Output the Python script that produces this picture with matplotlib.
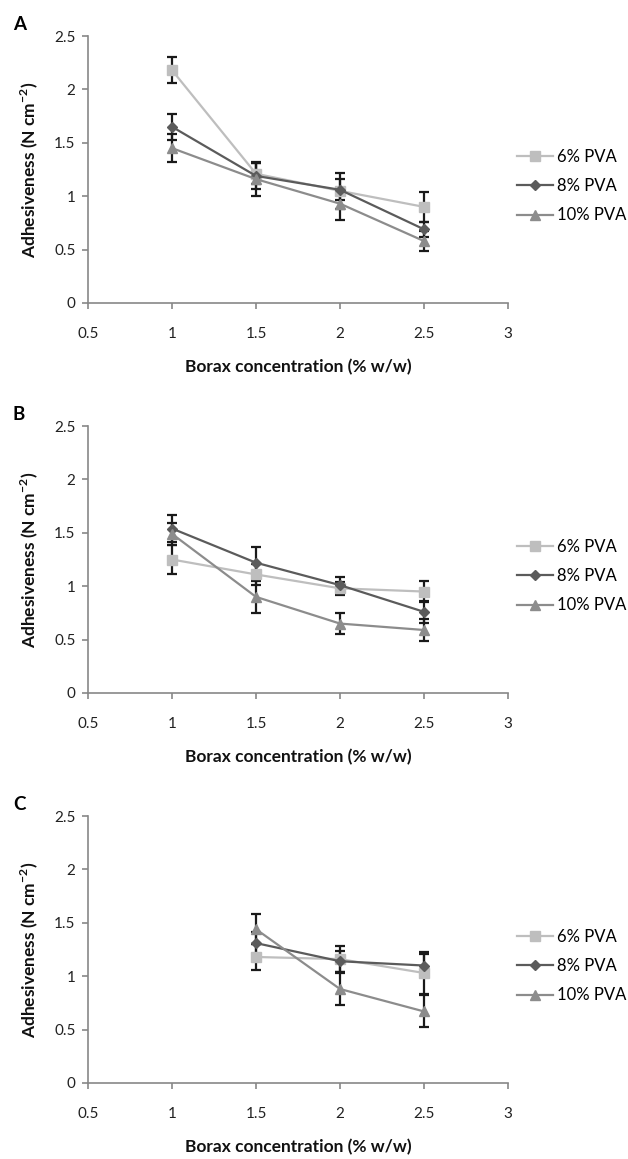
import matplotlib
matplotlib.use("Agg")
import matplotlib.pyplot as plt

plt.rcParams['font.family'] = ['Lato', 'DejaVu Sans']
plt.rcParams['mathtext.fontset'] = 'custom'
plt.rcParams['mathtext.rm'] = 'Lato'
plt.rcParams['mathtext.bf'] = 'Lato:bold'

series = ["6% PVA", "8% PVA", "10% PVA"]
x_AB = [1, 1.5, 2, 2.5]
x_C = [1.5, 2, 2.5]

A_vals = {"6% PVA": [2.18, 1.21, 1.05, 0.90],
          "8% PVA": [1.65, 1.19, 1.06, 0.69],
          "10% PVA": [1.45, 1.16, 0.93, 0.58]}
A_err = {"6% PVA": [0.12, 0.10, 0.17, 0.14],
         "8% PVA": [0.12, 0.12, 0.10, 0.07],
         "10% PVA": [0.13, 0.16, 0.15, 0.09]}

B_vals = {"6% PVA": [1.25, 1.11, 0.98, 0.95],
          "8% PVA": [1.54, 1.22, 1.01, 0.76],
          "10% PVA": [1.49, 0.90, 0.65, 0.59]}
B_err = {"6% PVA": [0.14, 0.10, 0.06, 0.10],
         "8% PVA": [0.13, 0.15, 0.08, 0.10],
         "10% PVA": [0.10, 0.15, 0.10, 0.10]}

C_vals = {"6% PVA": [1.18, 1.16, 1.03],
          "8% PVA": [1.31, 1.14, 1.10],
          "10% PVA": [1.44, 0.88, 0.67]}
C_err = {"6% PVA": [0.12, 0.12, 0.20],
         "8% PVA": [0.10, 0.10, 0.11],
         "10% PVA": [0.14, 0.15, 0.15]}

colors = {"6% PVA": "#bebebe", "8% PVA": "#5b5b5b", "10% PVA": "#8c8c8c"}
markers = {"6% PVA": "s", "8% PVA": "D", "10% PVA": "^"}
msizes = {"6% PVA": 7, "8% PVA": 5, "10% PVA": 7.5}

xticks = [0.5, 1, 1.5, 2, 2.5, 3]
yticks = [0, 0.5, 1, 1.5, 2, 2.5]
xtick_labels = ["0.5", "1", "1.5", "2", "2.5", "3"]
ytick_labels = ["0", "0.5", "1", "1.5", "2", "2.5"]

fig = plt.figure(figsize=(6.28, 11.59), dpi=100)
panels = [("A", x_AB, A_vals, A_err, 303),
          ("B", x_AB, B_vals, B_err, 693),
          ("C", x_C, C_vals, C_err, 1083)]
H = 1159.0
W = 628.0
for label, xs, vals, errs, ybot in panels:
    ax = fig.add_axes([88 / W, 1 - ybot / H, 420 / W, 267 / H])
    for s in series:
        ax.errorbar(xs, vals[s], yerr=errs[s], fmt='none', ecolor='#1a1a1a',
                    elinewidth=1.6, capsize=3.5, capthick=1.6, zorder=2)
    for s in series:
        ax.plot(xs, vals[s], color=colors[s], marker=markers[s], ms=msizes[s],
                lw=1.6, label=s, zorder=3)
    ax.set_xlim(0.5, 3)
    ax.set_ylim(0, 2.5)
    ax.set_xticks(xticks)
    ax.set_xticklabels(xtick_labels)
    ax.set_yticks(yticks)
    ax.set_yticklabels(ytick_labels)
    for sp in ["top", "right"]:
        ax.spines[sp].set_visible(False)
    for sp in ["left", "bottom"]:
        ax.spines[sp].set_color("#878787")
        ax.spines[sp].set_linewidth(1.2)
    ax.tick_params(axis='both', colors='#878787', labelcolor='#222222',
                   labelsize=11, length=4.5, width=1.2, direction='out')
    ax.tick_params(axis='x', pad=13)
    ax.tick_params(axis='y', pad=4.5)
    ax.set_xlabel("Borax concentration (% w/w)", fontsize=12.5, fontweight='bold',
                  labelpad=13, color='#111111')
    ax.set_ylabel("Adhesiveness (N cm$^{\\mathbf{-2}}$)", fontsize=12.5, fontweight='bold',
                  labelpad=10, color='#111111')
    ax.legend(loc='center left', bbox_to_anchor=(1.021, 0.438), frameon=False,
              fontsize=12, handlelength=2.15, labelspacing=0.8, handletextpad=0.25,
              borderpad=0, borderaxespad=0)
    fig.text(13 / W, 1 - (ybot - 279) / H, label, fontsize=13.5, fontweight='bold',
             va='center', ha='left')

fig.savefig("out.png", dpi=100)
